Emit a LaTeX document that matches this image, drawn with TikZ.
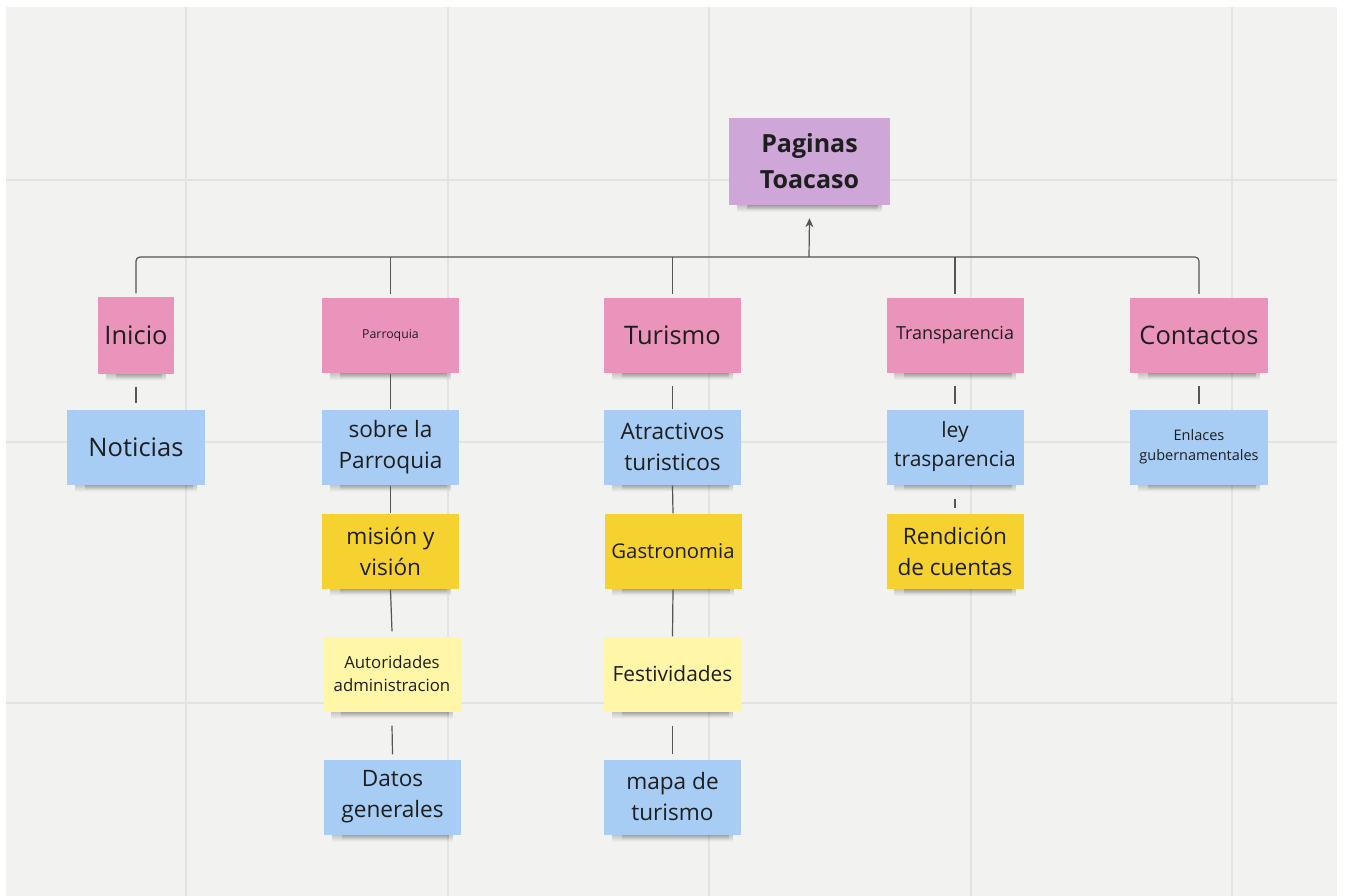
\documentclass[tikz,border=0pt]{standalone}
\usepackage{fontspec}
\setmainfont{Open Sans}
\usetikzlibrary{arrows.meta,fadings}
\definecolor{bgc}{HTML}{F2F2F0}
\definecolor{gridc}{HTML}{E3E3E2}
\definecolor{pinkc}{HTML}{EA94BC}
\definecolor{bluec}{HTML}{A7CDF5}
\definecolor{yelc}{HTML}{F5D230}
\definecolor{lyelc}{HTML}{FFF6A8}
\definecolor{purc}{HTML}{CEA7D8}
\definecolor{linec}{HTML}{555555}
\definecolor{txtc}{HTML}{1E1E1E}
\pgfdeclarelayer{gridlayer}
\pgfdeclarelayer{shadlayer}
\pgfsetlayers{gridlayer,shadlayer,main}
\tikzfading[name=shfade, top color=transparent!78, bottom color=transparent!100]
\tikzfading[name=shfadeb, top color=transparent!78, bottom color=transparent!100]
\newcommand{\nshadow}[1]{%
  \begin{pgfonlayer}{shadlayer}
    \fill[black, path fading=shfade] ([xshift=8pt,yshift=1pt]#1.south west) rectangle ([xshift=-8pt,yshift=-7pt]#1.south east);
    \fill[black, path fading=shfadeb] ([xshift=18pt,yshift=1pt]#1.south west) rectangle ([xshift=-12pt,yshift=-5pt]#1.south east);
  \end{pgfonlayer}}
\tikzset{
  note/.style={draw=none, inner sep=2pt, align=center, text=txtc,
    minimum width=137pt, minimum height=75pt},
  conn/.style={draw=linec, line width=1.2pt},
  fa/.style={font=\fontsize{25.5}{30}\selectfont},
  fb/.style={font=\fontsize{22.6}{31}\selectfont},
  fc/.style={font=\fontsize{20.5}{26}\selectfont},
  fd/.style={font=\fontsize{18}{22}\selectfont},
  fe/.style={font=\fontsize{16.8}{23}\selectfont},
  ff/.style={font=\fontsize{14.5}{20}\selectfont},
  fg/.style={font=\fontsize{12.3}{16}\selectfont},
}
\begin{document}
\begin{tikzpicture}[x=1pt,y=-1pt]
\useasboundingbox (0,0) rectangle (1345,896);
\begin{pgfonlayer}{gridlayer}
\fill[white] (0,0) rectangle (1345,896);
\fill[bgc] (6,7) rectangle (1337,896);
\foreach \gx in {186,447.5,709,970.5,1232}
  \draw[gridc, line width=2pt] (\gx,7) -- (\gx,896);
\foreach \gy in {180,441.5,703}
  \draw[gridc, line width=2pt] (6,\gy) -- (1337,\gy);
\end{pgfonlayer}

% root
\node[note, fill=purc, minimum width=161pt, minimum height=87pt,
  font=\bfseries\fontsize{25}{36}\selectfont] (root) at (809.5,161.5) {Paginas\\Toacaso};

% level 1
\node[note, fill=pinkc, minimum width=76pt, minimum height=76pt, fa] (inicio) at (136,335.5) {Inicio};
\node[note, fill=pinkc, fg] (parr) at (390.5,335.5) {Parroquia};
\node[note, fill=pinkc, fa] (tur) at (672.5,335.5) {Turismo};
\node[note, fill=pinkc, fd] (trans) at (955,335.5) {Transparencia};
\node[note, fill=pinkc, minimum width=138pt, fa] (cont) at (1199,335.5) {Contactos};

% level 2
\node[note, fill=bluec, minimum width=138pt, fa] (noti) at (136,447) {Noticias};
\node[note, fill=bluec, fb] (sobre) at (390.5,447) {sobre la\\Parroquia};
\node[note, fill=bluec, fb] (atra) at (672.5,447) {Atractivos\\turisticos};
\node[note, fill=bluec, font=\fontsize{21}{29}\selectfont] (ley) at (955,447) {ley\\trasparencia};
\node[note, fill=bluec, minimum width=138pt, ff] (enl) at (1199,447) {Enlaces\\gubernamentales};

% level 3
\node[note, fill=yelc, fb] (mis) at (390.5,551) {misión y\\visión};
\node[note, fill=yelc, font=\fontsize{20.3}{26}\selectfont] (gas) at (673,551) {Gastronomia};
\node[note, fill=yelc, fb] (rend) at (955,551.5) {Rendición\\de cuentas};

% level 4
\node[note, fill=lyelc, fe] (aut) at (392,674) {Autoridades\\administracion};
\node[note, fill=lyelc, font=\fontsize{20.9}{26}\selectfont] (fest) at (672.5,674) {Festividades};

% level 5
\node[note, fill=bluec, fb] (datos) at (392.5,797) {Datos\\generales};
\node[note, fill=bluec, fb] (mapa) at (672.5,797) {mapa de\\turismo};

\foreach \n in {root,inicio,parr,tur,trans,cont,noti,sobre,atra,ley,enl,mis,gas,rend,aut,fest,datos,mapa}
  {\nshadow{\n}}

% tree connectors
\coordinate (bar) at (809,257);
\draw[conn, rounded corners=4pt] ([yshift=4pt]inicio.north) |- (bar) -| ([yshift=4pt]cont.north);
\draw[conn] ([yshift=4pt]parr.north) -- (parr.north |- bar);
\draw[conn] ([yshift=4pt]tur.north) -- (tur.north |- bar);
\draw[conn] ([yshift=4pt]trans.north) -- (trans.north |- bar);
\draw[conn, -{Stealth[length=9pt,width=8pt]}] (bar) -- ([yshift=-13pt]root.south);

% vertical connectors
\draw[conn] ([yshift=-13pt]inicio.south) -- ([yshift=6pt]noti.north);
\draw[conn] ([yshift=-1pt]parr.south) -- (sobre.north);
\draw[conn] ([yshift=-13pt]tur.south) -- (atra.north);
\draw[conn] ([yshift=-13pt]trans.south) -- ([yshift=5pt]ley.north);
\draw[conn] ([yshift=-13pt]cont.south) -- ([yshift=5pt]enl.north);
\draw[conn] ([yshift=-1pt]sobre.south) -- (mis.north);
\draw[conn] ([yshift=-1pt]atra.south) -- (gas.north);
\draw[conn] ([yshift=-14pt]ley.south) -- ([yshift=6pt]rend.north);
\draw[conn] ([yshift=-1pt]mis.south) -- ([yshift=5pt]aut.north);
\draw[conn] ([yshift=-1pt]gas.south) -- (fest.north);
\draw[conn] ([yshift=-14pt]aut.south) -- ([yshift=5pt]datos.north);
\draw[conn] ([yshift=-14pt]fest.south) -- ([yshift=5pt]mapa.north);
\end{tikzpicture}
\end{document}
